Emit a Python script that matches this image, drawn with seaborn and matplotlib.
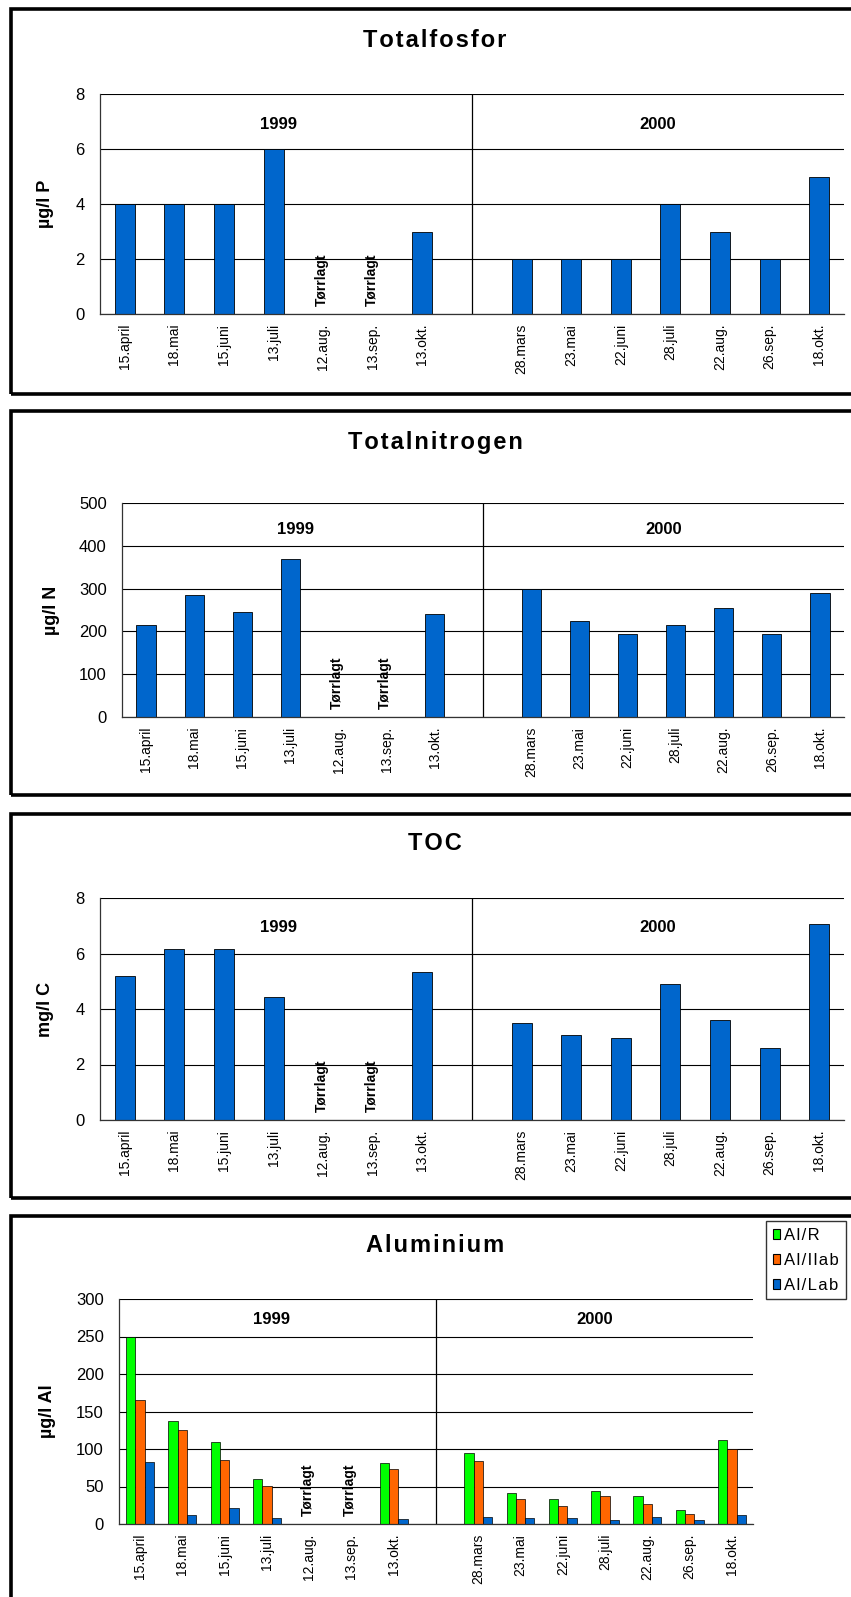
import numpy as np
import pandas as pd
import matplotlib
matplotlib.use("Agg")
import matplotlib.pyplot as plt
import matplotlib.transforms as mtransforms
from matplotlib.patches import Rectangle, Patch
import seaborn as sns

# sampling dates, one empty slot between the two years
dates_1999 = ["15.april", "18.mai", "15.juni", "13.juli", "12.aug.", "13.sep.", "13.okt."]
dates_2000 = ["28.mars", "23.mai", "22.juni", "28.juli", "22.aug.", "26.sep.", "18.okt."]
dates = dates_1999 + [""] + dates_2000
dry_dates = ["12.aug.", "13.sep."]

nan = np.nan
fosfor = [4, 4, 4, 6, nan, nan, 3, nan, 2, 2, 2, 4, 3, 2, 5]
nitrogen = [215, 285, 245, 370, nan, nan, 240, nan, 300, 225, 195, 215, 255, 195, 290]
toc = [5.2, 6.15, 6.15, 4.45, nan, nan, 5.35, nan, 3.5, 3.05, 2.95, 4.9, 3.6, 2.6, 7.05]
al_r = [250, 137, 109, 60, nan, nan, 81, nan, 95, 41, 34, 44, 38, 19, 112]
al_ilab = [165, 125, 86, 51, nan, nan, 74, nan, 84, 33, 24, 37, 27, 13, 100]
al_lab = [83, 12, 22, 8, nan, nan, 7, nan, 10, 8, 8, 5, 10, 5, 12]
al_series = ["Al/R", "Al/Ilab", "Al/Lab"]
al_colors = ["#00FF00", "#FF6600", "#0066CC"]
blue = "#0066CC"

W, H = 851, 1597

sns.set_style("white")
plt.rcParams["font.family"] = ["Liberation Sans", "DejaVu Sans"]
plt.rcParams["text.color"] = "black"
plt.rcParams["axes.labelcolor"] = "black"
plt.rcParams["xtick.color"] = "black"
plt.rcParams["ytick.color"] = "black"


def fx(px):
    return px / W


def fy(py):
    return 1 - py / H


def spaced(s):
    return "\u200a".join(s)


def add_axes(fig, left, top, right, bottom):
    return fig.add_axes([fx(left), fy(bottom), (right - left) / W, (bottom - top) / H])


def add_box(fig, top, bottom):
    fig.patches.append(Rectangle((fx(11), fy(bottom)), (880 - 11) / W, (bottom - top) / H,
                                 transform=fig.transFigure, fill=False,
                                 edgecolor="black", linewidth=2.6, zorder=0))


def style_axes(ax, ymax, step, year_y):
    ax.set_xlim(-0.5, len(dates) - 0.5)
    ax.set_ylim(0, ymax)
    ax.set_yticks(np.arange(0, ymax + step / 2, step))
    ax.set_xlabel("")
    ax.set_ylabel("")
    ax.set_xticks(np.arange(len(dates)))
    ax.set_xticklabels(dates, rotation=90, fontsize=10)
    ax.set_xticks(np.arange(-0.5, len(dates), 1), minor=True)
    ax.tick_params(axis="x", which="major", length=0, pad=7)
    ax.tick_params(axis="x", which="minor", length=5, width=0.8, color="black")
    ax.tick_params(axis="y", length=5, width=0.8, color="black", pad=6, labelsize=12)
    ax.yaxis.grid(True, color="black", linewidth=0.8)
    ax.xaxis.grid(False)
    ax.set_axisbelow(True)
    for side in ["top", "right"]:
        ax.spines[side].set_visible(False)
    for side in ["left", "bottom"]:
        ax.spines[side].set_color("#333333")
        ax.spines[side].set_linewidth(0.9)
    ax.axvline(dates.index(""), color="black", linewidth=0.9)
    trans = mtransforms.blended_transform_factory(ax.transData, ax.transAxes)
    ax.text(3.1, year_y, "1999", transform=trans, ha="center", va="center",
            fontsize=12, fontweight="bold")
    ax.text(10.75, year_y, "2000", transform=trans, ha="center", va="center",
            fontsize=12, fontweight="bold")
    for d in dry_dates:
        ax.annotate("Tørrlagt", xy=(dates.index(d), 0), xytext=(-1, 6),
                    textcoords="offset points", rotation=90, ha="center", va="bottom",
                    fontsize=10, fontweight="bold")


fig = plt.figure(figsize=(W / 100, H / 100), dpi=100)

# (values, ymax, step, ylabel, title, axes px (l, t, r, b), box (top, bottom), title baseline, ylabel x, year y)
single = [
    (fosfor, 8, 2, "µg/l P", "Totalfosfor", (100, 94, 844, 314), (8.5, 393.5), 47, 46, 0.86),
    (nitrogen, 500, 100, "µg/l N", "Totalnitrogen", (122, 503, 844, 717), (411.5, 795), 449, 52, 0.877),
    (toc, 8, 2, "mg/l C", "TOC", (100, 898, 844, 1120), (813.5, 1198), 850, 46, 0.866),
]

for values, ymax, step, ylabel, title, rect, box, tb, ylx, yy in single:
    add_box(fig, *box)
    ax = add_axes(fig, *rect)
    df = pd.DataFrame({"dato": dates, "verdi": values})
    sns.barplot(data=df, x="dato", y="verdi", order=dates, color=blue, saturation=1,
                width=0.4, edgecolor="black", linewidth=0.6, errorbar=None, ax=ax)
    style_axes(ax, ymax, step, yy)
    fig.text(fx(435), fy(tb), spaced(title), ha="center", va="baseline",
             fontsize=17, fontweight="bold")
    fig.text(fx(ylx), fy((rect[1] + rect[3]) / 2), ylabel, rotation=90, ha="center",
             va="center", fontsize=13, fontweight="bold")

# Aluminium panel
add_box(fig, 1216, 1640)
ax = add_axes(fig, 119, 1299, 753, 1524)
al = pd.DataFrame({"dato": dates * 3,
                   "serie": np.repeat(al_series, len(dates)),
                   "verdi": al_r + al_ilab + al_lab})
sns.barplot(data=al, x="dato", y="verdi", hue="serie", order=dates, hue_order=al_series,
            palette=al_colors, saturation=1, width=0.66, edgecolor="black", linewidth=0.5,
            errorbar=None, ax=ax)
ax.get_legend().remove()
style_axes(ax, 300, 50, 0.91)
fig.text(fx(435), fy(1252), spaced("Aluminium"), ha="center", va="baseline",
         fontsize=17, fontweight="bold")
fig.text(fx(47), fy(1411), "µg/l Al", rotation=90, ha="center", va="center",
         fontsize=13, fontweight="bold")

handles = [Patch(facecolor=c, edgecolor="black", linewidth=0.8) for c in al_colors]
leg = fig.legend(handles, [spaced(s) for s in al_series], loc="upper left",
                 bbox_to_anchor=(fx(766), fy(1221)), borderaxespad=0, frameon=True,
                 fancybox=False, fontsize=12, handlelength=0.45, handleheight=0.6,
                 handletextpad=0.25, labelspacing=0.6, borderpad=0.4)
leg.get_frame().set_edgecolor("black")
leg.get_frame().set_linewidth(1.0)

fig.savefig("out.png", dpi=100)
